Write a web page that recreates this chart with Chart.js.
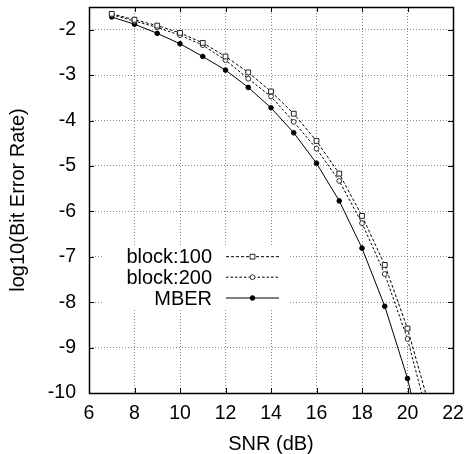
<!DOCTYPE html>
<html><head><meta charset="utf-8">
<script src="https://cdn.jsdelivr.net/npm/chart.js@4"></script>
<style>html,body{margin:0;padding:0;background:#fff}canvas{display:block}</style>
</head><body>
<canvas id="c" width="468" height="454"></canvas>
<script>
const snr      = [7, 8, 9, 10, 11, 12, 13, 14, 15, 16, 17, 18, 19, 20, 21];
const block100 = [-1.65, -1.78, -1.91, -2.07, -2.29, -2.59, -2.94, -3.36, -3.85, -4.45, -5.17, -6.10, -7.18, -8.58, -10.36];
const block200 = [-1.67, -1.81, -1.95, -2.12, -2.34, -2.67, -3.08, -3.47, -4.03, -4.62, -5.33, -6.26, -7.38, -8.81, -10.73];
const mber     = [-1.72, -1.88, -2.08, -2.31, -2.59, -2.89, -3.27, -3.72, -4.27, -4.94, -5.77, -6.81, -8.09, -9.68, -11.8];
const xTicks = [6, 8, 10, 12, 14, 16, 18, 20, 22];
const yTicks = [-10, -9, -8, -7, -6, -5, -4, -3, -2];
const seriesNames = ['block:100', 'block:200', 'MBER'];

const FONT = 'Liberation Sans, Arial, Helvetica, sans-serif';
const lastIdx = snr.length - 1;
function pts(arr){ return snr.map((x,i)=>({x, y: arr[i]})); }
function rad(r){ return ctx => ctx.dataIndex === lastIdx ? 0 : r; }

const styles = [
  {dash:[3,2], pointStyle:'rect', radius:3.4, fill:'#fff', stroke:'#222'},
  {dash:[2.5,2], pointStyle:'circle', radius:2.4, fill:'#fff', stroke:'#333'},
  {dash:[], pointStyle:'circle', radius:2.3, fill:'#000', stroke:'#000'}
];
const allData = [block100, block200, mber];

const datasets = allData.map((arr,k)=>({
  label: seriesNames[k],
  data: pts(arr),
  borderColor: '#000',
  borderWidth: 1,
  borderDash: styles[k].dash,
  pointStyle: styles[k].pointStyle,
  pointRadius: rad(styles[k].radius),
  pointBackgroundColor: styles[k].fill,
  pointBorderColor: styles[k].stroke,
  pointBorderWidth: 1,
  tension: 0,
  fill: false
}));

const framePlugin = {
  id: 'frame',
  afterDatasetsDraw(chart){
    const c = chart.ctx, a = chart.chartArea;
    const xs = chart.scales.x, ys = chart.scales.y;
    c.save();
    // legend box
    c.fillStyle = '#fff';
    c.fillRect(103, 247, 187, 61);
    const rowsY = [256.7, 277.2, 298];
    c.font = '20px ' + FONT;
    c.textAlign = 'right';
    c.textBaseline = 'middle';
    for (let k=0;k<3;k++){
      const y = rowsY[k];
      c.fillStyle = '#000';
      c.fillText(seriesNames[k], 212, y + 1);
      c.strokeStyle = '#000';
      c.lineWidth = 1;
      c.setLineDash(styles[k].dash);
      c.beginPath(); c.moveTo(226, y); c.lineTo(279, y); c.stroke();
      c.setLineDash([]);
      const r = styles[k].radius, mx = 252.5;
      c.fillStyle = styles[k].fill; c.strokeStyle = styles[k].stroke;
      c.beginPath();
      if (styles[k].pointStyle === 'rect'){
        const s = r*Math.SQRT1_2;
        c.rect(mx-s, y-s, 2*s, 2*s);
      } else {
        c.arc(mx, y, r, 0, Math.PI*2);
      }
      c.fill(); c.stroke();
    }
    // ticks (inward, mirrored)
    c.strokeStyle = '#000';
    c.lineWidth = 1;
    const tl = 5;
    c.beginPath();
    xTicks.forEach(v=>{
      const px = Math.round(xs.getPixelForValue(v)) + 0.5;
      c.moveTo(px, a.bottom); c.lineTo(px, a.bottom - tl);
      c.moveTo(px, a.top); c.lineTo(px, a.top + tl);
    });
    yTicks.forEach(v=>{
      const py = Math.round(ys.getPixelForValue(v)) + 0.5;
      c.moveTo(a.left, py); c.lineTo(a.left + tl, py);
      c.moveTo(a.right, py); c.lineTo(a.right - tl, py);
    });
    c.stroke();
    // border
    c.lineWidth = 1.5;
    c.strokeRect(Math.round(a.left)+0.5, Math.round(a.top)+0.5, Math.round(a.right-a.left), Math.round(a.bottom-a.top));
    c.restore();
  }
};

new Chart(document.getElementById('c'), {
  type: 'line',
  data: { datasets },
  options: {
    responsive: false,
    animation: false,
    devicePixelRatio: 1,
    layout: { padding: { top: 7, right: 15, left: 0, bottom: 0 } },
    plugins: { legend: { display: false }, tooltip: { enabled: false } },
    scales: {
      x: {
        type: 'linear', min: 6, max: 22,
        afterBuildTicks: s => { s.ticks = xTicks.map(v=>({value:v})); },
        afterFit: s => { s.height = 61; s.paddingLeft = 0; s.paddingRight = 0; },
        ticks: { color: '#000', font: { family: FONT, size: 19.5 }, padding: 9, maxRotation: 0 },
        grid: { color: '#8a8a8a', lineWidth: 1, drawTicks: false },
        border: { display: false, dash: [1, 2] },
        title: { display: true, text: 'SNR (dB)', color: '#000', font: { family: FONT, size: 20, lineHeight: 1 }, padding: 0 }
      },
      y: {
        type: 'linear', min: -10, max: -1.5,
        afterBuildTicks: s => { s.ticks = yTicks.map(v=>({value:v})); },
        afterFit: s => { s.width = 89; s.paddingTop = 0; s.paddingBottom = 0; },
        ticks: { color: '#000', font: { family: FONT, size: 19.5 }, padding: 13 },
        grid: { color: '#8a8a8a', lineWidth: 1, drawTicks: false },
        border: { display: false, dash: [1, 2] },
        title: { display: true, text: 'log10(Bit Error Rate)', color: '#000', font: { family: FONT, size: 20, lineHeight: 1 }, padding: { top: 8, bottom: 0 } }
      }
    }
  },
  plugins: [framePlugin]
});
</script>
</body></html>
